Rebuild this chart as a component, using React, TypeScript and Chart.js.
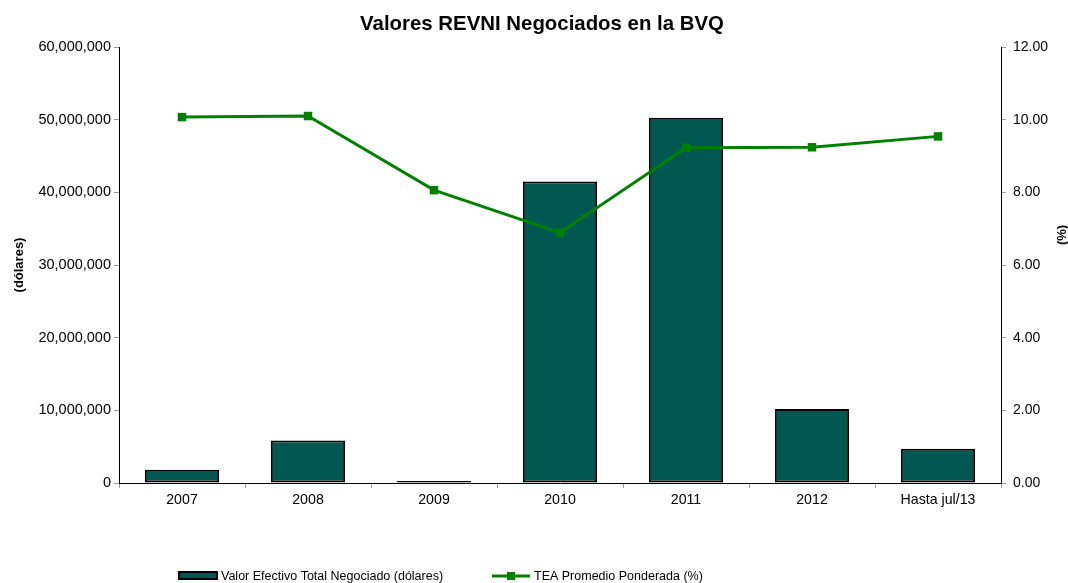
import React, { useEffect, useRef } from "react";
import { Chart, registerables } from "chart.js";

Chart.register(...registerables);

const title = "Valores REVNI Negociados en la BVQ";
const categories = ["2007", "2008", "2009", "2010", "2011", "2012", "Hasta jul/13"];
const valorEfectivo = [1830000, 5850000, 270000, 41500000, 50250000, 10200000, 4700000];
const teaPromedio = [10.07, 10.1, 8.06, 6.89, 9.23, 9.24, 9.54];
const barLabel = "Valor Efectivo Total Negociado (dólares)";
const lineLabel = "TEA Promedio Ponderada (%)";
const leftTitle = "(dólares)";
const rightTitle = "(%)";

const FONT = "'Liberation Sans', Arial, sans-serif";
const BAR_COLOR = "#005850";
const LINE_COLOR = "#008000";

const decorPlugin = {
  id: "decor",
  afterDraw(chart: any) {
    const ctx = chart.ctx as CanvasRenderingContext2D;
    const area = chart.chartArea;
    ctx.save();
    // title
    ctx.fillStyle = "#000";
    ctx.font = `bold 20.4px ${FONT}`;
    ctx.textAlign = "center";
    ctx.textBaseline = "alphabetic";
    ctx.fillText(title, 542, 30);
    // axis titles
    ctx.textBaseline = "middle";
    ctx.font = `bold 13px ${FONT}`;
    ctx.save();
    ctx.translate(19, (area.top + area.bottom) / 2);
    ctx.rotate(-Math.PI / 2);
    ctx.fillText(leftTitle, 0, 0);
    ctx.restore();
    ctx.save();
    ctx.translate(1062, 235);
    ctx.rotate(-Math.PI / 2);
    ctx.fillText(rightTitle, 0, 0);
    ctx.restore();
    // legend
    const ly = 576;
    ctx.fillStyle = BAR_COLOR;
    ctx.strokeStyle = "#000";
    ctx.lineWidth = 2;
    ctx.fillRect(179, ly - 4, 38, 7);
    ctx.strokeRect(179, ly - 4, 38, 7);
    ctx.fillStyle = "#000";
    ctx.font = `12.5px ${FONT}`;
    ctx.textAlign = "left";
    ctx.fillText(barLabel, 221, ly + 1);
    ctx.strokeStyle = LINE_COLOR;
    ctx.lineWidth = 3;
    ctx.beginPath();
    ctx.moveTo(492, ly);
    ctx.lineTo(530, ly);
    ctx.stroke();
    ctx.fillStyle = LINE_COLOR;
    ctx.fillRect(507, ly - 4, 8, 8);
    ctx.fillStyle = "#000";
    ctx.fillText(lineLabel, 534, ly + 1);
    ctx.restore();
  },
};

export default function App() {
  const ref = useRef<HTMLCanvasElement>(null);
  useEffect(() => {
    if (!ref.current) return;
    const chart = new Chart(ref.current, {
      type: "bar",
      data: {
        labels: categories,
        datasets: [
          {
            type: "line",
            label: lineLabel,
            data: teaPromedio,
            yAxisID: "y1",
            borderColor: LINE_COLOR,
            backgroundColor: LINE_COLOR,
            borderWidth: 3,
            pointStyle: "rect",
            pointRadius: 6,
            pointBorderWidth: 0,
            order: 0,
          } as any,
          {
            type: "bar",
            label: barLabel,
            data: valorEfectivo,
            yAxisID: "y",
            backgroundColor: BAR_COLOR,
            borderColor: "#000",
            borderWidth: 2,
            borderSkipped: false,
            categoryPercentage: 1,
            barPercentage: 0.59,
            order: 1,
          },
        ],
      },
      options: {
        animation: false,
        responsive: false,
        maintainAspectRatio: false,
        layout: { padding: { top: 47, left: 0, right: 0, bottom: 0 } },
        plugins: { legend: { display: false }, tooltip: { enabled: false }, title: { display: false } },
        scales: {
          x: {
            offset: true,
            grid: { drawOnChartArea: false, offset: true, tickLength: 5, color: "#999" },
            border: { color: "#000", width: 1 },
            ticks: { color: "#000", font: { family: FONT, size: 14.2 }, padding: 4, maxRotation: 0 },
            afterFit(scale: any) {
              scale.height = 100;
            },
          },
          y: {
            position: "left",
            min: 0,
            max: 60000000,
            grid: { drawOnChartArea: false, tickLength: 5, color: "#999" },
            border: { color: "#000", width: 1 },
            ticks: {
              stepSize: 10000000,
              color: "#000",
              font: { family: FONT, size: 14.5 },
              padding: 3,
              callback: (v: any) => Number(v).toLocaleString("en-US"),
            },
            afterFit(scale: any) {
              scale.width = 119;
            },
          },
          y1: {
            position: "right",
            min: 0,
            max: 12,
            grid: { drawOnChartArea: false, tickLength: 5, color: "#999" },
            border: { color: "#000", width: 1 },
            ticks: {
              stepSize: 2,
              color: "#000",
              font: { family: FONT, size: 14 },
              padding: 7,
              callback: (v: any) => Number(v).toFixed(2),
            },
            afterFit(scale: any) {
              scale.width = 67;
            },
          },
        },
      },
      plugins: [decorPlugin],
    });
    return () => chart.destroy();
  }, []);
  return (
    <div style={{ position: "fixed", left: 0, top: 0, width: 1068, height: 583, background: "#fff" }}>
      <canvas ref={ref} width={1068} height={583} style={{ width: 1068, height: 583 }} />
    </div>
  );
}
